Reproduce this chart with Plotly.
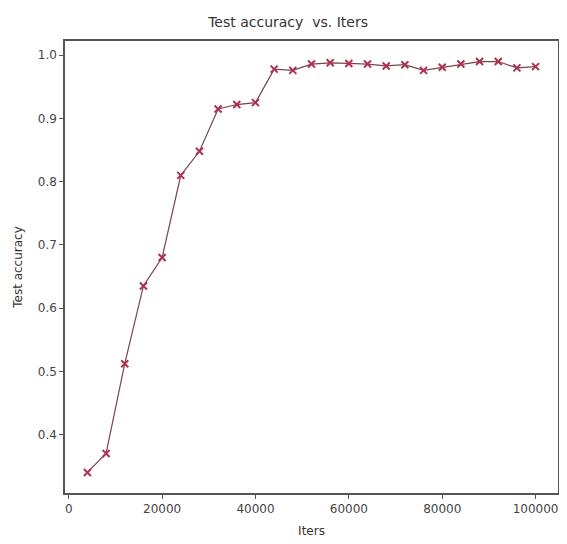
import plotly.graph_objects as go

iters = [4000, 8000, 12000, 16000, 20000, 24000, 28000, 32000, 36000, 40000,
         44000, 48000, 52000, 56000, 60000, 64000, 68000, 72000, 76000, 80000,
         84000, 88000, 92000, 96000, 100000]
accuracy = [0.340, 0.370, 0.512, 0.635, 0.680, 0.810, 0.848, 0.915, 0.922, 0.925,
            0.978, 0.976, 0.986, 0.988, 0.987, 0.986, 0.983, 0.985, 0.976, 0.981,
            0.986, 0.990, 0.990, 0.980, 0.982]

x_ticks = [0, 20000, 40000, 60000, 80000, 100000]
y_ticks = [0.4, 0.5, 0.6, 0.7, 0.8, 0.9, 1.0]

fig = go.Figure()
fig.add_trace(go.Scatter(
    x=iters, y=accuracy, mode="lines+markers",
    line=dict(color="#74464f", width=1.2),
    marker=dict(symbol="x-thin", size=7, color="#b03050",
                line=dict(color="#b03050", width=2)),
    showlegend=False,
))

axis_common = dict(
    showline=True, linecolor="#555555", linewidth=1.5, mirror=True,
    ticks="outside", ticklen=4, tickcolor="#555555",
    showgrid=False, zeroline=False, automargin=False,
    tickfont=dict(family="DejaVu Sans", size=12, color="#444444"),
)

fig.update_layout(
    width=567, height=544,
    margin=dict(l=57, r=17, t=33, b=59),
    paper_bgcolor="white", plot_bgcolor="white",
    title=dict(text="Test accuracy  vs. Iters", x=0.494, xanchor="center",
               y=0.974, yanchor="middle",
               font=dict(family="DejaVu Sans", size=14, color="#333333")),
    xaxis=dict(range=[-800, 104800], tickvals=x_ticks,
               ticktext=[str(v) for v in x_ticks],
               title=dict(text="Iters", standoff=11,
                          font=dict(family="DejaVu Sans", size=12, color="#333333")),
               **axis_common),
    yaxis=dict(range=[0.3075, 1.0225], tickvals=y_ticks,
               ticktext=[f"{v:.1f}" for v in y_ticks],
               title=dict(text="Test accuracy", standoff=13,
                          font=dict(family="DejaVu Sans", size=12, color="#333333")),
               **axis_common),
)

fig.write_html("out.html")
